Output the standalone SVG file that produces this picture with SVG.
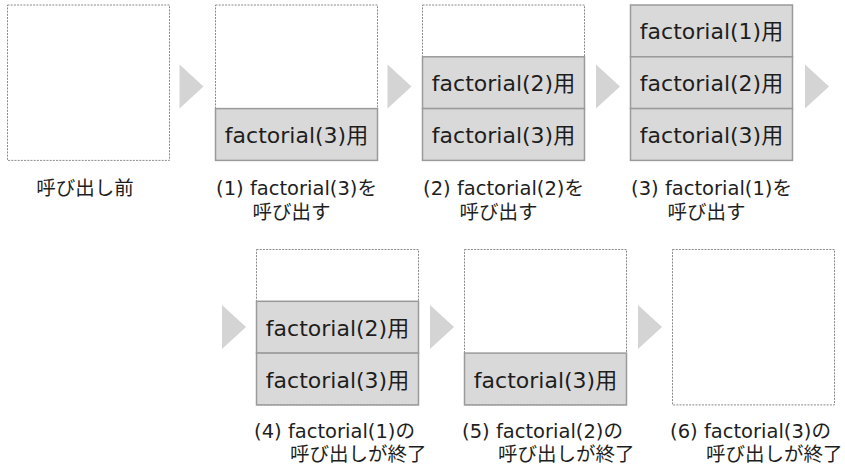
<svg xmlns="http://www.w3.org/2000/svg" width="845" height="467" viewBox="0 0 845 467">
<style>
.frame{fill:#fff;stroke:#8a8a8a;stroke-width:1;stroke-dasharray:2 1.2}
.cell{fill:#d9d9d9;stroke:#9a9a9a;stroke-width:1.5}
.ct{font-family:"DejaVu Sans","Noto Sans CJK JP",sans-serif;font-size:22px;fill:#1e1e1e;text-anchor:middle}
.lb{font-family:"DejaVu Sans","Noto Sans CJK JP",sans-serif;font-size:19.5px;fill:#1e1e1e}
.m{text-anchor:middle}
.arr{fill:#d4d4d4}
</style>
<rect width="845" height="467" fill="#fff"/>
<g id="connectors">
<polygon class="arr" points="179.5,64.5 179.5,108.5 203.5,86.5"/>
<polygon class="arr" points="387.5,64.5 387.5,108.5 411.5,86.5"/>
<polygon class="arr" points="596,64.5 596,108.5 620,86.5"/>
<polygon class="arr" points="805,64.5 805,108.5 829,86.5"/>
<polygon class="arr" points="222,305 222,349 246,327"/>
<polygon class="arr" points="430,305 430,349 454,327"/>
<polygon class="arr" points="638,305 638,349 662,327"/>
</g>
<g id="s0">
<rect class="frame" x="7.5" y="5" width="162" height="155.4"/>
<text class="lb m" x="85" y="195">呼び出し前</text>
</g>
<g id="s1">
<rect class="frame" x="215.5" y="5" width="162" height="155.4"/>
<rect class="cell" x="215.5" y="108.6" width="162" height="51.8"/>
<text class="ct" x="296.5" y="143">factorial(3)用</text>
<text class="lb m" x="296.5" y="195">(1) factorial(3)を</text>
<text class="lb" x="252.5" y="219">呼び出す</text>
</g>
<g id="s2">
<rect class="frame" x="422.5" y="5" width="162" height="155.4"/>
<rect class="cell" x="422.5" y="56.8" width="162" height="51.8"/>
<rect class="cell" x="422.5" y="108.6" width="162" height="51.8"/>
<text class="ct" x="503.5" y="91.2">factorial(2)用</text>
<text class="ct" x="503.5" y="143">factorial(3)用</text>
<text class="lb m" x="503.5" y="195">(2) factorial(2)を</text>
<text class="lb" x="459.5" y="219">呼び出す</text>
</g>
<g id="s3">
<rect class="cell" x="630.5" y="5" width="162" height="51.8"/>
<rect class="cell" x="630.5" y="56.8" width="162" height="51.8"/>
<rect class="cell" x="630.5" y="108.6" width="162" height="51.8"/>
<text class="ct" x="711.5" y="39.4">factorial(1)用</text>
<text class="ct" x="711.5" y="91.2">factorial(2)用</text>
<text class="ct" x="711.5" y="143">factorial(3)用</text>
<text class="lb m" x="711.5" y="195">(3) factorial(1)を</text>
<text class="lb" x="667.5" y="219">呼び出す</text>
</g>
<g id="s4">
<rect class="frame" x="256.5" y="249.5" width="162" height="155.4"/>
<rect class="cell" x="256.5" y="301.3" width="162" height="51.8"/>
<rect class="cell" x="256.5" y="353.1" width="162" height="51.8"/>
<text class="ct" x="337.5" y="335.7">factorial(2)用</text>
<text class="ct" x="337.5" y="387.5">factorial(3)用</text>
<text class="lb m" x="334.5" y="438">(4) factorial(1)の</text>
<text class="lb" x="290" y="461">呼び出しが終了</text>
</g>
<g id="s5">
<rect class="frame" x="464.5" y="249.5" width="162" height="155.4"/>
<rect class="cell" x="464.5" y="353.1" width="162" height="51.8"/>
<text class="ct" x="545.5" y="387.5">factorial(3)用</text>
<text class="lb m" x="542.5" y="438">(5) factorial(2)の</text>
<text class="lb" x="498" y="461">呼び出しが終了</text>
</g>
<g id="s6">
<rect class="frame" x="672.5" y="249.5" width="162" height="155.4"/>
<text class="lb m" x="750.5" y="438">(6) factorial(3)の</text>
<text class="lb" x="706" y="461">呼び出しが終了</text>
</g>
</svg>
